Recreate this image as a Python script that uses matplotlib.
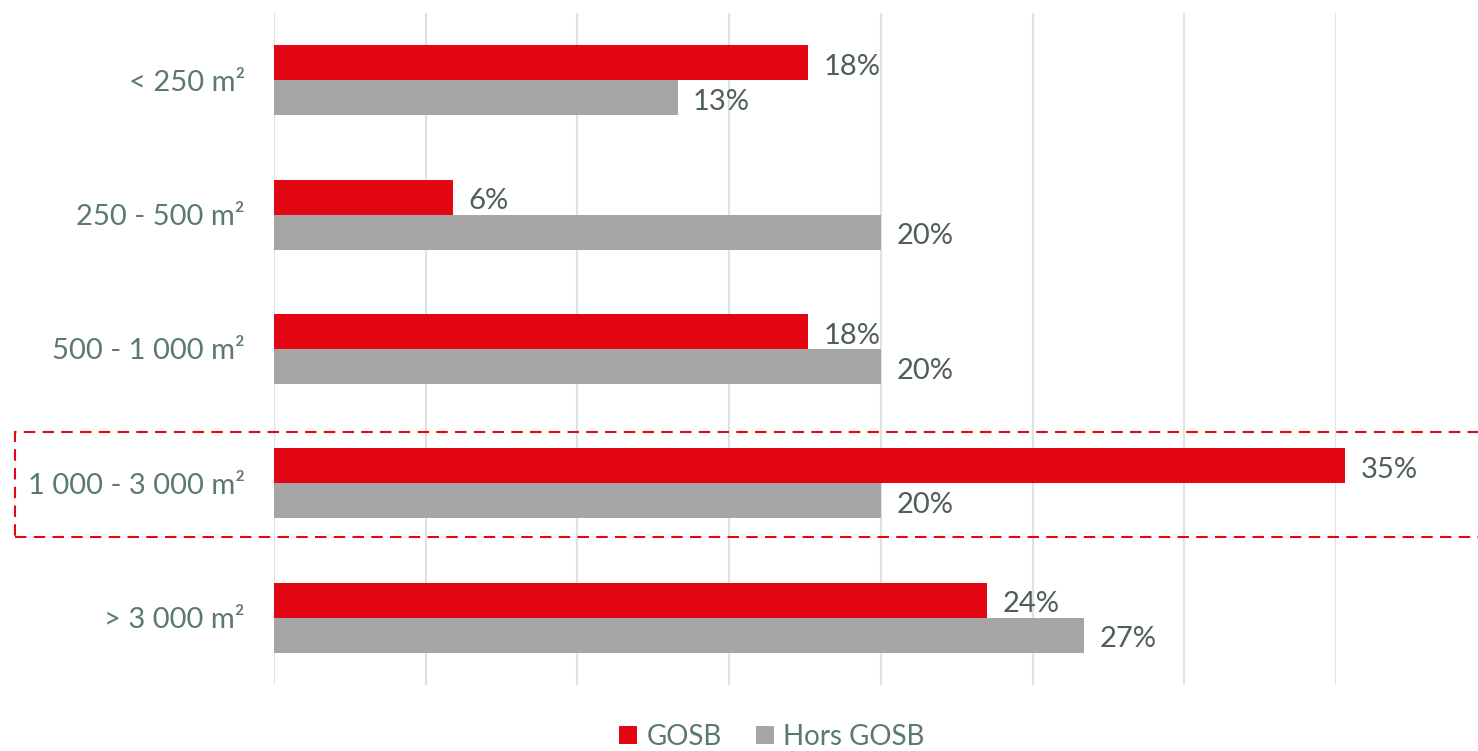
import matplotlib
matplotlib.use("Agg")
import matplotlib.pyplot as plt
from matplotlib.patches import Rectangle

# Share of sites by floor area (%)
categories = ["< 250 m²", "250 - 500 m²", "500 - 1 000 m²", "1 000 - 3 000 m²", "> 3 000 m²"]
gosb = [17.6, 5.9, 17.6, 35.3, 23.5]
hors_gosb = [13.3, 20.0, 20.0, 20.0, 26.7]
series_names = ["GOSB", "Hors GOSB"]

RED = "#e30613"
GREY = "#a6a6a6"
LABEL_COLOR = "#5b7a6e"
VALUE_COLOR = "#4f5f58"
GRID_COLOR = "#dde3e2"

plt.rcParams["font.family"] = ["Lato", "DejaVu Sans"]

W, H = 1478, 751
fig = plt.figure(figsize=(W / 100, H / 100), dpi=100)
ax = fig.add_axes([274 / W, 1 - 685 / H, (1336 - 274) / W, (685 - 13) / H])

bar_h = 0.26
ypos = list(range(len(categories)))
b1 = ax.barh([y - bar_h / 2 for y in ypos], gosb, height=bar_h, color=RED,
             clip_on=False, zorder=3, label=series_names[0])
b2 = ax.barh([y + bar_h / 2 for y in ypos], hors_gosb, height=bar_h, color=GREY,
             clip_on=False, zorder=3, label=series_names[1])

for bars, vals in ((b1, gosb), (b2, hors_gosb)):
    for rect, v in zip(bars, vals):
        ax.annotate(f"{v:.0f}%", (v, rect.get_y() + rect.get_height() / 2),
                    xytext=(11, -3), textcoords="offset points",
                    ha="left", va="center", fontsize=21, color=VALUE_COLOR,
                    annotation_clip=False)

ax.set_xlim(0, 35)
ax.set_ylim(len(categories) - 0.5, -0.5)
ax.set_xticks(range(0, 36, 5))
ax.set_xticklabels([])
ax.set_yticks(ypos)
ax.set_yticklabels(categories, fontsize=21, color=LABEL_COLOR)
ax.tick_params(axis="y", length=0, pad=21)
ax.tick_params(axis="x", length=0)
ax.grid(axis="x", color=GRID_COLOR, linewidth=1.5, zorder=0)
for s in ax.spines.values():
    s.set_visible(False)

# Highlight box around the 1 000 - 3 000 m² group
box = Rectangle((15 / W, 1 - 537 / H), 1.0, (537 - 432) / H, transform=fig.transFigure,
                fill=False, edgecolor=RED, linewidth=1.5, linestyle=(0, (5.5, 3.5)),
                clip_on=False, zorder=5)
fig.patches.append(box)

fig.legend(handles=[b1, b2], labels=series_names, loc="center",
           bbox_to_anchor=(772 / W, 1 - 737 / H), ncol=2, frameon=False,
           fontsize=20, labelcolor=LABEL_COLOR, handlelength=0.62, handleheight=0.62,
           handletextpad=0.35, columnspacing=1.25, borderpad=0.1)

fig.savefig("out.png", dpi=100, facecolor="white")
